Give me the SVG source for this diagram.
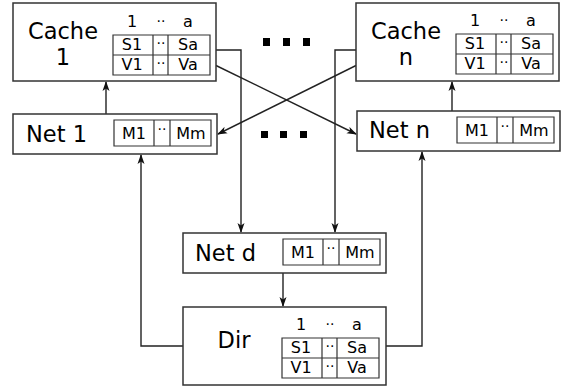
<svg xmlns="http://www.w3.org/2000/svg" width="565" height="390" viewBox="0 0 565 390">
<style>
.box{fill:#fff;stroke:#333;stroke-width:1.5}
.tb{fill:none;stroke:#333;stroke-width:1.2}
.t{font-family:"DejaVu Sans",sans-serif;fill:#000}
.big{font-size:22.5px}
.sm{font-size:16px;text-anchor:middle}
.dd{font-size:14px;text-anchor:middle}
.ln{fill:none;stroke:#222;stroke-width:1.4}
.dot{fill:#000}
</style>
<defs>
<marker id="ah" markerUnits="userSpaceOnUse" markerWidth="10" markerHeight="8" refX="9" refY="4" orient="auto">
<path d="M0,0.5 L10,4 L0,7.5 L2.5,4 z" fill="#111"/>
</marker>
<g id="tbl3">
<path class="tb" d="M0,0 H97 V40 H0 Z M0,20 H97 M40,0 V40 M55,0 V40"/>
<text class="t sm" x="19" y="-8">1</text><text class="t dd" x="48" y="-9">··</text><text class="t sm" x="75" y="-8">a</text>
<text class="t sm" x="19" y="15">S1</text><text class="t dd" x="48" y="13">··</text><text class="t sm" x="75" y="15">Sa</text>
<text class="t sm" x="19" y="35">V1</text><text class="t dd" x="48" y="33">··</text><text class="t sm" x="75" y="35">Va</text>
</g>
<g id="tblm">
<path class="tb" d="M0,0 H97 V26 H0 Z M40,0 V26 M56,0 V26"/>
<text class="t sm" x="20" y="19">M1</text><text class="t dd" x="48" y="14">··</text><text class="t sm" x="77" y="19">Mm</text>
</g>
</defs>

<g id="connectors">
<line class="ln" x1="106" y1="114" x2="106" y2="82" marker-end="url(#ah)"/>
<line class="ln" x1="452" y1="111" x2="452" y2="82" marker-end="url(#ah)"/>
<path class="ln" d="M216,50 H241 V232" marker-end="url(#ah)"/>
<path class="ln" d="M356,50 H335 V232" marker-end="url(#ah)"/>
<line class="ln" x1="216" y1="65.5" x2="356" y2="134" marker-end="url(#ah)"/>
<line class="ln" x1="356" y1="65.5" x2="218" y2="134" marker-end="url(#ah)"/>
<line class="ln" x1="283" y1="273" x2="283" y2="306" marker-end="url(#ah)"/>
<path class="ln" d="M183,346 H141 V155" marker-end="url(#ah)"/>
<path class="ln" d="M386,346 H422 V152" marker-end="url(#ah)"/>
</g>

<g id="dots">
<rect class="dot" x="263" y="38" width="7" height="8"/>
<rect class="dot" x="283" y="38" width="7" height="8"/>
<rect class="dot" x="303" y="38" width="7" height="8"/>
<rect class="dot" x="261" y="131" width="7" height="7"/>
<rect class="dot" x="280" y="131" width="7" height="7"/>
<rect class="dot" x="300" y="131" width="7" height="7"/>
</g>

<g id="cache1">
<rect class="box" x="13" y="3" width="203" height="78"/>
<text class="t big" x="63" y="39" text-anchor="middle">Cache</text>
<text class="t big" x="63" y="65" text-anchor="middle">1</text>
<use href="#tbl3" x="113" y="35"/>
</g>
<g id="cachen">
<rect class="box" x="356" y="3" width="203" height="78"/>
<text class="t big" x="406" y="39" text-anchor="middle">Cache</text>
<text class="t big" x="406" y="65" text-anchor="middle">n</text>
<use href="#tbl3" x="456" y="34"/>
</g>
<g id="net1">
<rect class="box" x="13" y="114" width="204" height="40"/>
<text class="t big" x="26" y="142">Net 1</text>
<use href="#tblm" x="114" y="120"/>
</g>
<g id="netn">
<rect class="box" x="357" y="111" width="203" height="40"/>
<text class="t big" x="369" y="138">Net n</text>
<use href="#tblm" x="457" y="117"/>
</g>
<g id="netd">
<rect class="box" x="183" y="233" width="203" height="40"/>
<text class="t big" x="195" y="261">Net d</text>
<use href="#tblm" x="283" y="239"/>
</g>
<g id="dir">
<rect class="box" x="183" y="307" width="203" height="78"/>
<text class="t big" x="234" y="348" text-anchor="middle">Dir</text>
<use href="#tbl3" x="282" y="338"/>
</g>
</svg>
